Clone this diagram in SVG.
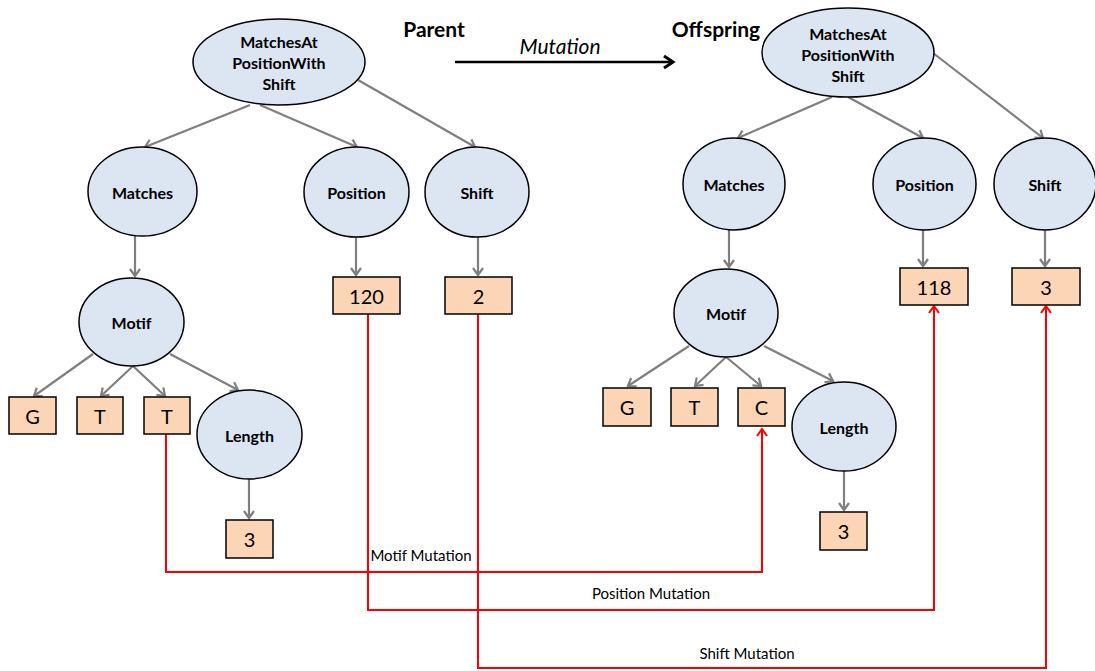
<svg xmlns="http://www.w3.org/2000/svg" width="1095" height="671" viewBox="0 0 1095 671">
<defs>
<style>
.el{fill:#DCE6F2;stroke:#000;stroke-width:1.5}
.bx{fill:#FBD5B5;stroke:#000;stroke-width:1.5}
.nt{font-family:Lato,"Open Sans",sans-serif;font-weight:bold;font-size:16px;text-anchor:middle;dominant-baseline:central;fill:#000}
.vt{font-family:Lato,"Open Sans",sans-serif;font-size:20px;text-anchor:middle;dominant-baseline:central;fill:#000}
.lb{font-family:Lato,"Open Sans",sans-serif;font-size:15px;text-anchor:middle;fill:#000}
.ge{stroke:#7F7F7F;stroke-width:2.2;fill:none;marker-end:url(#ga)}
.re{stroke:#FF0000;stroke-width:2;fill:none;marker-end:url(#ra)}
</style>
<marker id="ga" markerUnits="userSpaceOnUse" viewBox="-10 -7 12 14" markerWidth="12" markerHeight="14" refX="0" refY="0" orient="auto" overflow="visible">
<path d="M-7,-5 L0,0 L-7,5" fill="none" stroke="#7F7F7F" stroke-width="2.2"/>
</marker>
<marker id="ra" markerUnits="userSpaceOnUse" viewBox="-10 -7 12 14" markerWidth="12" markerHeight="14" refX="0" refY="0" orient="auto" overflow="visible">
<path d="M-7,-5 L0,0 L-7,5" fill="none" stroke="#FF0000" stroke-width="2"/>
</marker>
<marker id="ka" markerUnits="userSpaceOnUse" viewBox="-12 -8 14 16" markerWidth="14" markerHeight="16" refX="0" refY="0" orient="auto" overflow="visible">
<path d="M-9,-6 L0,0 L-9,6" fill="none" stroke="#000" stroke-width="3"/>
</marker>
</defs>
<rect width="1095" height="671" fill="#fff"/>

<g id="connectors">
<path class="ge" d="M250,105 L145,147"/>
<path class="ge" d="M260,105 L357,147"/>
<path class="ge" d="M358,80 L475,147"/>
<path class="ge" d="M135,236 L135,276"/>
<path class="ge" d="M356,237 L356,275"/>
<path class="ge" d="M478,237 L478,275"/>
<path class="ge" d="M93,354 L34,396"/>
<path class="ge" d="M133,366 L101,396"/>
<path class="ge" d="M133,366 L165,396"/>
<path class="ge" d="M170,354 L238,390"/>
<path class="ge" d="M249,479 L249,518"/>

<path class="ge" d="M832,97 L738,138"/>
<path class="ge" d="M848,97 L923,138"/>
<path class="ge" d="M933,53 L1043,138"/>
<path class="ge" d="M729,230 L729,267"/>
<path class="ge" d="M923,230 L923,266"/>
<path class="ge" d="M1045,230 L1045,266"/>
<path class="ge" d="M689,346 L628,386"/>
<path class="ge" d="M726,357 L695,386"/>
<path class="ge" d="M726,357 L761,386"/>
<path class="ge" d="M764,346 L833,381"/>
<path class="ge" d="M844,471 L844,510"/>

<path d="M455,62 L673,62" stroke="#000" stroke-width="2.5" fill="none" marker-end="url(#ka)"/>

<path class="re" d="M166,434 V572 H762 V429"/>
<path class="re" d="M368,314 V610 H934 V306"/>
<path class="re" d="M478,314 V668 H1046 V306"/>
<text class="lb" x="421" y="561">Motif Mutation</text>
<text class="lb" x="651" y="599">Position Mutation</text>
<text class="lb" x="747" y="659">Shift Mutation</text>
</g>

<text x="434" y="37" font-family="Lato,'Open Sans',sans-serif" font-weight="bold" font-size="21" text-anchor="middle">Parent</text>
<text x="716" y="37" font-family="Lato,'Open Sans',sans-serif" font-weight="bold" font-size="21" text-anchor="middle">Offspring</text>
<text x="560" y="54" font-family="Lato,'Open Sans',sans-serif" font-style="italic" font-size="21" text-anchor="middle">Mutation</text>

<!-- Parent tree -->
<g id="p-root"><ellipse class="el" cx="279" cy="62" rx="86" ry="43"/>
<text class="nt" x="279" y="41">MatchesAt</text><text class="nt" x="279" y="62">PositionWith</text><text class="nt" x="279" y="83">Shift</text></g>
<g id="p-matches"><ellipse class="el" cx="142.5" cy="191.5" rx="54.5" ry="44.5"/><text class="nt" x="142.5" y="192">Matches</text></g>
<g id="p-position"><ellipse class="el" cx="356.5" cy="192" rx="52.5" ry="45"/><text class="nt" x="356.5" y="192">Position</text></g>
<g id="p-shift"><ellipse class="el" cx="477" cy="192" rx="52" ry="45"/><text class="nt" x="477" y="192">Shift</text></g>
<g id="p-120"><rect class="bx" x="333" y="277" width="67" height="37"/><text class="vt" x="366.5" y="296">120</text></g>
<g id="p-2"><rect class="bx" x="445" y="277" width="67" height="37"/><text class="vt" x="478.5" y="296">2</text></g>
<g id="p-motif"><ellipse class="el" cx="131.5" cy="322" rx="52.5" ry="44"/><text class="nt" x="131.5" y="322">Motif</text></g>
<g id="p-g"><rect class="bx" x="9" y="397" width="47" height="37"/><text class="vt" x="32.5" y="416">G</text></g>
<g id="p-t1"><rect class="bx" x="77" y="397" width="46" height="37"/><text class="vt" x="100" y="416">T</text></g>
<g id="p-t2"><rect class="bx" x="144" y="397" width="46" height="37"/><text class="vt" x="167" y="416">T</text></g>
<g id="p-length"><ellipse class="el" cx="249.5" cy="434.5" rx="52.5" ry="44.5"/><text class="nt" x="249.5" y="435">Length</text></g>
<g id="p-3"><rect class="bx" x="226" y="520" width="47" height="38"/><text class="vt" x="249.5" y="539">3</text></g>

<!-- Offspring tree -->
<g id="o-root"><ellipse class="el" cx="848" cy="52.5" rx="86" ry="44.5"/>
<text class="nt" x="848" y="33">MatchesAt</text><text class="nt" x="848" y="54">PositionWith</text><text class="nt" x="848" y="75">Shift</text></g>
<g id="o-matches"><ellipse class="el" cx="734" cy="184" rx="51" ry="46"/><text class="nt" x="734" y="184">Matches</text></g>
<g id="o-position"><ellipse class="el" cx="924.5" cy="184" rx="51.5" ry="46"/><text class="nt" x="924.5" y="184">Position</text></g>
<g id="o-shift"><ellipse class="el" cx="1045" cy="184" rx="51" ry="46"/><text class="nt" x="1045" y="184">Shift</text></g>
<g id="o-118"><rect class="bx" x="900" y="268" width="68" height="37"/><text class="vt" x="934" y="287">118</text></g>
<g id="o-3s"><rect class="bx" x="1012" y="268" width="68" height="37"/><text class="vt" x="1046" y="287">3</text></g>
<g id="o-motif"><ellipse class="el" cx="726" cy="313" rx="52" ry="44"/><text class="nt" x="726" y="313">Motif</text></g>
<g id="o-g"><rect class="bx" x="603" y="388" width="48" height="38"/><text class="vt" x="627" y="407">G</text></g>
<g id="o-t"><rect class="bx" x="671" y="388" width="47" height="38"/><text class="vt" x="694.5" y="407">T</text></g>
<g id="o-c"><rect class="bx" x="738" y="388" width="47" height="38"/><text class="vt" x="761.5" y="407">C</text></g>
<g id="o-length"><ellipse class="el" cx="844" cy="426.5" rx="52" ry="44.5"/><text class="nt" x="844" y="427">Length</text></g>
<g id="o-3"><rect class="bx" x="820" y="512" width="47" height="38"/><text class="vt" x="843.5" y="531">3</text></g>
</svg>
